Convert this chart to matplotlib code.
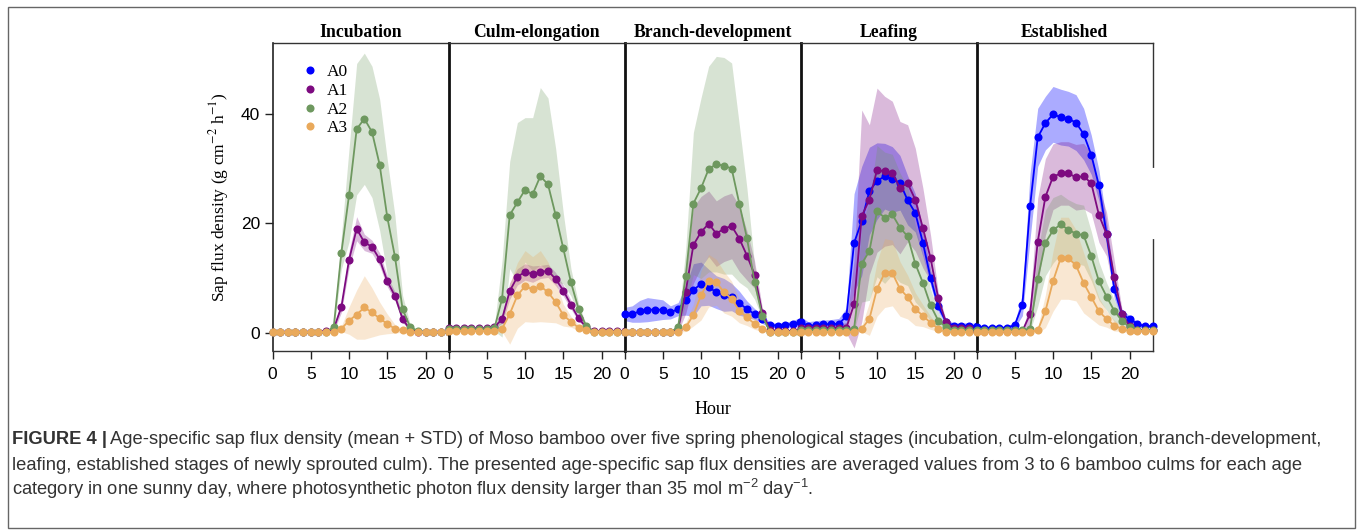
import numpy as np
import matplotlib
matplotlib.use("Agg")
import matplotlib.pyplot as plt
from matplotlib.lines import Line2D
from matplotlib.patches import Rectangle

plt.rcParams['mathtext.fontset'] = 'custom'
plt.rcParams['mathtext.rm'] = 'Liberation Sans'
plt.rcParams['mathtext.it'] = 'Liberation Sans:italic'

hours = list(range(24))
stages = ['Incubation', 'Culm-elongation', 'Branch-development', 'Leafing', 'Established']
ages = ['A0', 'A1', 'A2', 'A3']
age_colors = ['#0000FF', '#7D0A80', '#6E985F', '#E9A95B']
x_ticks = [0, 5, 10, 15, 20]
y_ticks = [0, 20, 40]

# ---- Incubation (no A0) ----
inc_A1_mean = [0.2, 0.2, 0.2, 0.2, 0.2, 0.2, 0.2, 0.3, 0.7, 4.7, 13.3, 19.0, 16.5, 15.7, 13.4, 9.4, 6.7, 2.5, 0.5, 0.2, 0.2, 0.2, 0.2, 0.2]
inc_A1_std = [0.1, 0.1, 0.1, 0.1, 0.1, 0.1, 0.1, 0.1, 0.5, 1.0, 1.5, 2.2, 1.5, 1.2, 1.2, 1.0, 0.8, 0.5, 0.2, 0.1, 0.1, 0.1, 0.1, 0.1]
inc_A2_mean = [0.1, 0.1, 0.1, 0.1, 0.1, 0.1, 0.1, 0.1, 1.0, 14.6, 25.1, 37.2, 39.1, 36.7, 30.7, 21.1, 13.9, 4.3, 1.0, 0.3, 0.1, 0.1, 0.1, 0.1]
inc_A2_std = [0.0, 0.0, 0.0, 0.0, 0.0, 0.0, 0.0, 0.0, 0.5, 3.0, 8.5, 12.0, 12.0, 12.0, 12.0, 10.5, 7.5, 2.5, 0.5, 0.1, 0.0, 0.0, 0.0, 0.0]
inc_A3_mean = [0.1, 0.1, 0.1, 0.1, 0.1, 0.1, 0.1, 0.1, 0.1, 0.7, 2.2, 3.3, 4.6, 3.7, 2.6, 1.6, 0.7, 0.4, 0.1, 0.1, 0.1, 0.1, 0.1, 0.1]
inc_A3_std = [0.0, 0.0, 0.0, 0.0, 0.0, 0.0, 0.0, 0.0, 0.0, 0.5, 2.5, 4.5, 5.8, 4.5, 3.0, 1.8, 0.8, 0.3, 0.0, 0.0, 0.0, 0.0, 0.0, 0.0]

# ---- Culm-elongation (no A0) ----
cul_A1_mean = [0.8, 0.8, 0.8, 0.8, 0.8, 0.8, 1.0, 2.5, 7.6, 10.2, 11.1, 10.7, 11.1, 11.3, 9.8, 7.7, 5.1, 2.6, 1.0, 0.3, 0.3, 0.3, 0.3, 0.3]
cul_A1_std = [0.2, 0.2, 0.2, 0.2, 0.2, 0.2, 0.2, 0.8, 1.5, 1.5, 1.5, 1.5, 1.2, 1.2, 1.2, 1.0, 0.8, 0.5, 0.3, 0.1, 0.1, 0.1, 0.1, 0.1]
cul_A2_mean = [0.6, 0.6, 0.6, 0.6, 0.6, 0.6, 0.8, 6.2, 21.5, 23.8, 26.1, 25.3, 28.6, 27.1, 21.5, 15.4, 9.2, 4.3, 1.2, 0.2, 0.2, 0.2, 0.2, 0.2]
cul_A2_std = [0.1, 0.1, 0.1, 0.1, 0.1, 0.1, 0.5, 7.0, 9.8, 14.6, 13.2, 14.0, 16.2, 15.8, 12.2, 6.5, 2.5, 1.0, 0.3, 0.1, 0.1, 0.1, 0.1, 0.1]
cul_A3_mean = [0.3, 0.3, 0.3, 0.3, 0.3, 0.3, 0.3, 0.7, 3.4, 6.8, 8.5, 7.9, 8.5, 7.4, 5.6, 3.2, 2.0, 0.9, 0.4, 0.2, 0.2, 0.2, 0.2, 0.2]
cul_A3_std = [0.1, 0.1, 0.1, 0.1, 0.1, 0.1, 0.1, 0.5, 5.5, 6.0, 6.5, 6.0, 6.5, 5.5, 3.8, 2.0, 1.0, 0.5, 0.2, 0.1, 0.1, 0.1, 0.1, 0.1]

# ---- Branch-development ----
bra_A0_mean = [3.4, 3.4, 3.9, 4.2, 4.2, 4.2, 3.7, 4.3, 5.9, 7.8, 8.9, 8.3, 7.4, 6.9, 6.5, 5.4, 4.3, 3.4, 2.5, 1.4, 1.3, 1.4, 1.6, 2.0]
bra_A0_std = [1.2, 1.5, 2.0, 2.2, 2.0, 1.8, 1.2, 1.2, 2.7, 4.8, 4.0, 3.3, 3.0, 3.0, 2.5, 2.2, 1.5, 1.0, 0.8, 0.5, 0.4, 0.5, 0.6, 0.8]
bra_A1_mean = [0.2, 0.2, 0.2, 0.2, 0.2, 0.2, 0.2, 0.6, 7.5, 16.0, 18.4, 19.9, 18.1, 19.0, 19.5, 17.2, 14.1, 10.6, 3.6, 0.5, 0.3, 0.3, 0.3, 0.3]
bra_A1_std = [0.1, 0.1, 0.1, 0.1, 0.1, 0.1, 0.1, 0.5, 4.0, 7.0, 6.5, 6.0, 6.0, 6.0, 6.0, 6.0, 4.5, 2.5, 1.0, 0.2, 0.1, 0.1, 0.1, 0.1]
bra_A2_mean = [0.1, 0.1, 0.1, 0.1, 0.1, 0.1, 0.1, 1.0, 10.3, 23.6, 26.4, 29.9, 30.8, 30.5, 30.0, 23.6, 17.3, 9.2, 3.1, 0.2, 0.2, 0.2, 0.2, 0.2]
bra_A2_std = [0.0, 0.0, 0.0, 0.0, 0.0, 0.0, 0.0, 0.5, 5.0, 13.0, 16.5, 18.8, 19.7, 19.8, 19.3, 14.4, 9.1, 3.1, 0.5, 0.1, 0.1, 0.1, 0.1, 0.1]
bra_A3_mean = [0.1, 0.1, 0.1, 0.1, 0.1, 0.1, 0.1, 0.1, 1.0, 3.2, 6.8, 9.5, 9.2, 7.4, 6.2, 4.0, 2.8, 1.6, 0.7, 0.1, 0.1, 0.1, 0.1, 0.1]
bra_A3_std = [0.0, 0.0, 0.0, 0.0, 0.0, 0.0, 0.0, 0.0, 0.8, 2.0, 4.5, 4.8, 4.2, 3.8, 3.2, 2.2, 1.5, 1.0, 0.5, 0.0, 0.0, 0.0, 0.0, 0.0]

# ---- Leafing ----
lea_A0_mean = [2.0, 1.2, 1.4, 1.5, 1.6, 1.6, 3.0, 16.4, 20.4, 25.9, 27.7, 28.6, 28.0, 27.4, 24.2, 21.9, 16.4, 10.0, 4.8, 2.0, 1.3, 1.3, 1.3, 1.2]
lea_A0_std = [1.0, 0.8, 0.8, 0.8, 0.8, 1.0, 1.5, 9.0, 10.0, 8.0, 7.0, 6.0, 6.0, 5.0, 4.5, 3.5, 2.5, 1.5, 1.0, 0.5, 0.5, 0.5, 0.5, 0.5]
lea_A1_mean = [0.9, 0.9, 0.9, 0.9, 0.9, 0.9, 0.9, 5.2, 21.3, 24.3, 29.7, 29.5, 29.2, 26.5, 27.3, 24.3, 19.1, 13.6, 6.3, 1.9, 0.9, 0.9, 0.9, 0.9]
lea_A1_std = [0.5, 0.5, 0.5, 0.5, 0.5, 0.5, 1.0, 8.0, 19.4, 13.7, 15.0, 13.7, 13.1, 12.1, 10.7, 9.4, 7.3, 4.2, 1.1, 0.5, 0.4, 0.4, 0.4, 0.4]
lea_A2_mean = [0.5, 0.5, 0.5, 0.5, 0.5, 0.5, 0.5, 0.7, 12.6, 14.9, 22.2, 21.0, 21.6, 19.2, 17.6, 12.6, 9.1, 5.0, 2.2, 1.0, 0.5, 0.5, 0.5, 0.5]
lea_A2_std = [0.2, 0.2, 0.2, 0.2, 0.2, 0.2, 0.2, 0.5, 7.0, 9.0, 12.0, 12.0, 11.0, 10.0, 9.0, 7.0, 5.0, 3.0, 1.5, 0.5, 0.2, 0.2, 0.2, 0.2]
lea_A3_mean = [0.1, 0.1, 0.1, 0.1, 0.1, 0.1, 0.1, 0.1, 0.7, 2.5, 8.0, 10.9, 10.9, 8.0, 6.5, 4.3, 3.1, 1.8, 0.7, 0.1, 0.1, 0.1, 0.1, 0.1]
lea_A3_std = [0.0, 0.0, 0.0, 0.0, 0.0, 0.0, 0.0, 0.0, 0.5, 3.0, 5.0, 6.3, 6.0, 5.0, 4.0, 3.0, 2.0, 1.2, 0.5, 0.0, 0.0, 0.0, 0.0, 0.0]

# ---- Established ----
est_A0_mean = [1.0, 0.9, 0.9, 0.9, 0.9, 1.4, 5.1, 23.1, 35.7, 38.3, 39.9, 39.4, 39.1, 38.4, 36.3, 32.5, 26.9, 18.0, 8.0, 3.4, 2.5, 1.6, 1.2, 1.2]
est_A0_std = [0.3, 0.3, 0.3, 0.3, 0.3, 0.5, 2.0, 6.0, 5.3, 4.9, 5.1, 5.1, 5.0, 5.1, 4.7, 3.6, 2.8, 2.2, 1.8, 0.8, 0.6, 0.4, 0.3, 0.3]
est_A1_mean = [0.3, 0.3, 0.3, 0.3, 0.3, 0.3, 0.3, 3.4, 16.6, 24.8, 28.5, 29.1, 29.1, 28.4, 28.6, 27.3, 21.5, 18.0, 10.2, 3.4, 1.2, 0.4, 0.4, 0.4]
est_A1_std = [0.2, 0.2, 0.2, 0.2, 0.2, 0.2, 0.2, 2.0, 8.0, 7.0, 6.0, 5.8, 5.8, 6.0, 6.0, 5.5, 5.0, 4.0, 3.0, 1.0, 0.5, 0.2, 0.2, 0.2]
est_A2_mean = [0.4, 0.4, 0.4, 0.4, 0.4, 0.4, 0.4, 0.7, 9.8, 16.4, 18.7, 19.8, 18.8, 18.1, 17.8, 14.0, 9.4, 6.6, 4.0, 2.2, 1.0, 0.5, 0.5, 0.5]
est_A2_std = [0.2, 0.2, 0.2, 0.2, 0.2, 0.2, 0.2, 0.5, 5.0, 6.0, 6.0, 5.5, 5.5, 5.5, 5.5, 4.5, 3.5, 2.5, 2.0, 1.0, 0.5, 0.2, 0.2, 0.2]
est_A3_mean = [0.2, 0.2, 0.2, 0.2, 0.2, 0.2, 0.2, 0.2, 0.4, 3.9, 9.4, 13.6, 13.6, 12.3, 9.1, 6.5, 3.9, 2.5, 1.3, 0.7, 0.3, 0.3, 0.3, 0.3]
est_A3_std = [0.1, 0.1, 0.1, 0.1, 0.1, 0.1, 0.1, 0.1, 0.5, 3.0, 5.5, 7.5, 7.5, 6.5, 5.5, 4.0, 2.5, 1.5, 1.0, 0.5, 0.2, 0.2, 0.2, 0.2]

panel_data = [
    [None, (inc_A1_mean, inc_A1_std), (inc_A2_mean, inc_A2_std), (inc_A3_mean, inc_A3_std)],
    [None, (cul_A1_mean, cul_A1_std), (cul_A2_mean, cul_A2_std), (cul_A3_mean, cul_A3_std)],
    [(bra_A0_mean, bra_A0_std), (bra_A1_mean, bra_A1_std), (bra_A2_mean, bra_A2_std), (bra_A3_mean, bra_A3_std)],
    [(lea_A0_mean, lea_A0_std), (lea_A1_mean, lea_A1_std), (lea_A2_mean, lea_A2_std), (lea_A3_mean, lea_A3_std)],
    [(est_A0_mean, est_A0_std), (est_A1_mean, est_A1_std), (est_A2_mean, est_A2_std), (est_A3_mean, est_A3_std)],
]

W, H = 1357, 531
fig = plt.figure(figsize=(W / 100, H / 100), dpi=100)

serif = 'Liberation Serif'
sans = 'Liberation Sans'

ax_left_px, ax_right_px = 272.5, 1152.5
ax_top_px, ax_bot_px = 42.7, 350.7
pw = (ax_right_px - ax_left_px) / 5
band_alpha = [0.33, 0.28, 0.27, 0.27]

axes = []
for i, stage in enumerate(stages):
    l = (ax_left_px + i * pw) / W
    b = 1 - ax_bot_px / H
    ax = fig.add_axes([l, b, pw / W, (ax_bot_px - ax_top_px) / H])
    axes.append(ax)
    ax.set_xlim(0, 23)
    ax.set_ylim(-3.3, 53.0)
    series = panel_data[i]
    for k, s in enumerate(series):
        if s is None:
            continue
        m = np.array(s[0]); sd = np.array(s[1])
        ax.fill_between(hours, m - sd, m + sd, color=age_colors[k],
                        alpha=band_alpha[k], linewidth=0, zorder=1)
    for k, s in enumerate(series):
        if s is None:
            continue
        ax.plot(hours, s[0], color=age_colors[k], lw=1.3, marker='o',
                markersize=5.8, markeredgewidth=0, zorder=3 + k, clip_on=False)
    ax.set_title(stage, fontfamily=serif, fontweight='bold', fontsize=12.7, pad=4)
    ax.set_xticks(x_ticks)
    ax.tick_params(axis='x', direction='out', length=6, width=1, pad=6,
                   labelsize=12.5, color='#222222')
    for t in ax.get_xticklabels():
        t.set_fontfamily(sans)
    for sp in ['top', 'bottom']:
        ax.spines[sp].set_linewidth(1.0)
        ax.spines[sp].set_color('#333333')
    ax.spines['right'].set_visible(i == 4)
    ax.spines['right'].set_linewidth(1.0)
    ax.spines['right'].set_color('#333333')
    if i == 0:
        ax.spines['left'].set_linewidth(1.2)
        ax.spines['left'].set_color('#222222')
        ax.set_yticks(y_ticks)
        ax.tick_params(axis='y', direction='out', length=6, width=1, pad=3,
                       labelsize=12.5, color='#222222')
        for t in ax.get_yticklabels():
            t.set_fontfamily(sans)
        ax.set_ylabel('Sap flux density (g cm$^{-2}$ h$^{-1}$)', fontfamily=serif,
                      fontsize=12.6, labelpad=7, math_fontfamily='stix')
        handles = [Line2D([], [], marker='o', linestyle='none', color=c,
                          markersize=5.8, markeredgewidth=0) for c in age_colors]
        ax.legend(handles, ages, loc='upper left', bbox_to_anchor=(0.095, 0.975),
                  frameon=False, handlelength=0.8, handletextpad=0.55,
                  labelspacing=0.14, borderpad=0.3,
                  prop={'family': serif, 'size': 12.5})
    else:
        ax.spines['left'].set_linewidth(2.0)
        ax.spines['left'].set_color('#111111')
        ax.set_yticks([])
        ax.tick_params(axis='y', left=False, labelleft=False)

fig.text((ax_left_px + ax_right_px) / 2 / W, 1 - 409 / H, 'Hour',
         fontfamily=serif, fontsize=13, ha='center', va='center')

# gap in right border of last panel (as in reference)
fig.add_artist(Line2D([1152.5 / W, 1152.5 / W], [1 - 170 / H, 1 - 237 / H],
                      transform=fig.transFigure, color='white', lw=3, zorder=10))

# outer frame
fig.add_artist(Rectangle((8 / W, 1 - 528 / H), 1347 / W, 521 / H,
                         transform=fig.transFigure, fill=False,
                         edgecolor='#666666', lw=1.0))

# caption
cap_color = '#333333'
cap_size = 13.2
renderer = fig.canvas.get_renderer()
x0 = 12 / W
t_bold = fig.text(x0, 1 - 440 / H, 'FIGURE 4 |', fontfamily=sans, fontweight='bold',
                  fontsize=cap_size, color=cap_color, va='center', ha='left')
bb = t_bold.get_window_extent(renderer=renderer)
fig.text(bb.x1 / W + 3 / W, 1 - 440 / H,
         'Age-specific sap flux density (mean + STD) of Moso bamboo over five spring phenological stages (incubation, culm-elongation, branch-development,',
         fontfamily=sans, fontsize=cap_size, color=cap_color, va='center', ha='left')
fig.text(x0, 1 - 465 / H,
         'leafing, established stages of newly sprouted culm). The presented age-specific sap flux densities are averaged values from 3 to 6 bamboo culms for each age',
         fontfamily=sans, fontsize=cap_size, color=cap_color, va='center', ha='left')
fig.text(x0, 1 - 489 / H,
         'category in one sunny day, where photosynthetic photon flux density larger than 35 mol m$^{-2}$ day$^{-1}$.',
         fontfamily=sans, fontsize=cap_size, color=cap_color, va='center', ha='left')

fig.savefig('out.png', dpi=100)
